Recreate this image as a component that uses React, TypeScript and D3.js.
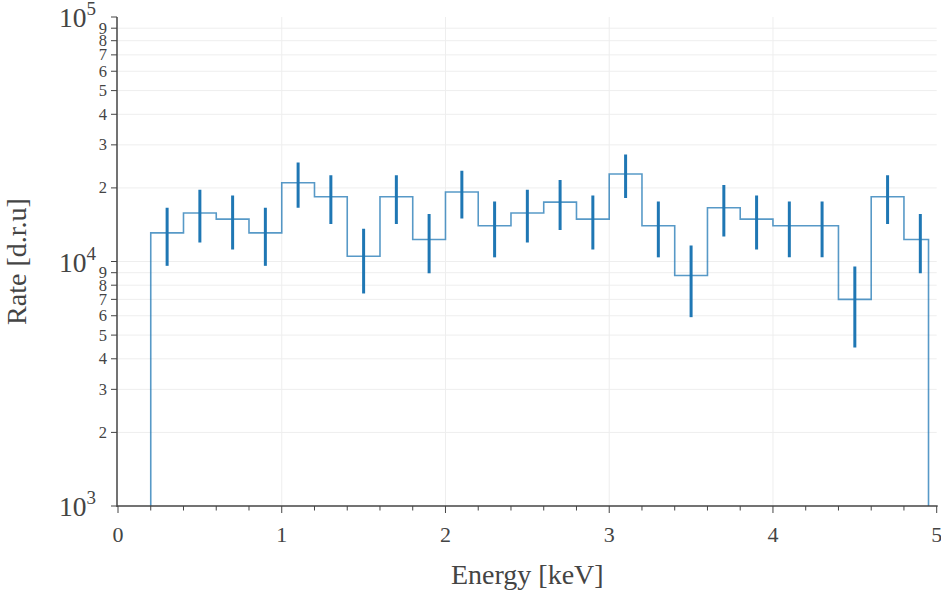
import React from "react";
import * as d3 from "d3";

// ---- data ----
const binEdges = [0.2, 0.4, 0.6, 0.8, 1.0, 1.2, 1.4, 1.6, 1.8, 2.0, 2.2, 2.4, 2.6, 2.8, 3.0, 3.2, 3.4, 3.6, 3.8, 4.0, 4.2, 4.4, 4.6, 4.8, 4.95];
const binCenters = [0.3, 0.5, 0.7, 0.9, 1.1, 1.3, 1.5, 1.7, 1.9, 2.1, 2.3, 2.5, 2.7, 2.9, 3.1, 3.3, 3.5, 3.7, 3.9, 4.1, 4.3, 4.5, 4.7, 4.9];
const rates = [13100, 15800, 14900, 13100, 21000, 18400, 10500, 18400, 12300, 19250, 14000, 15800, 17500, 14900, 22800, 14000, 8770, 16600, 14900, 14000, 14000, 7000, 18400, 12300];
const rateErrors = [350, 385, 370, 350, 440, 415, 310, 415, 335, 425, 360, 385, 405, 370, 460, 360, 285, 395, 370, 360, 360, 255, 415, 335];
const xMajorTicks = [0, 1, 2, 3, 4, 5];
const xMinorTicks = [0.2, 0.4, 0.6, 0.8, 1.2, 1.4, 1.6, 1.8, 2.2, 2.4, 2.6, 2.8, 3.2, 3.4, 3.6, 3.8, 4.2, 4.4, 4.6, 4.8];
const yPowers = [3, 4, 5];
const yDigits = [2, 3, 4, 5, 6, 7, 8, 9];
const xTitle = "Energy [keV]";
const yTitle = "Rate [d.r.u]";

const W = 941, H = 593;
const plot = { left: 118, right: 936.7, top: 17, bottom: 506 };
const FONT = '"Liberation Serif", "Times New Roman", Times, serif';
const TXT = "#444";
const BLUE = "#1f77b4";

export default function App() {
  const x = d3.scaleLinear().domain([0, 5]).range([plot.left, plot.right]);
  const y = d3.scaleLog().domain([1e3, 1e5]).range([plot.bottom, plot.top]);

  const minorVals: number[] = [];
  for (let p = 3; p < 5; p++) for (const d of yDigits) minorVals.push(d * Math.pow(10, p));

  // step path
  const pts: [number, number][] = [];
  pts.push([binEdges[0], 1e2]);
  rates.forEach((r, i) => {
    pts.push([binEdges[i], r]);
    pts.push([binEdges[i + 1], r]);
  });
  pts.push([binEdges[binEdges.length - 1], 1e2]);
  const yc = (v: number) => Math.min(plot.bottom + 5, y(Math.max(v, 500)));
  const stepPath = d3.line<[number, number]>().x((d) => x(d[0])).y((d) => yc(d[1]))(pts) || "";

  return (
    <svg width={W} height={H} style={{ position: "absolute", left: 0, top: 0, background: "#fff" }} fontFamily={FONT}>
      <defs>
        <clipPath id="pclip">
          <rect x={plot.left} y={plot.top} width={plot.right - plot.left} height={plot.bottom - plot.top} />
        </clipPath>
      </defs>
      {/* grid */}
      <g stroke="#eee" strokeWidth={1}>
        {minorVals.map((v) => (
          <line key={"gy" + v} x1={plot.left} x2={plot.right} y1={y(v)} y2={y(v)} />
        ))}
        <line x1={plot.left} x2={plot.right} y1={y(1e4)} y2={y(1e4)} />
        {xMajorTicks.slice(1, -1).map((t) => (
          <line key={"gx" + t} x1={x(t)} x2={x(t)} y1={plot.top} y2={plot.bottom} />
        ))}
      </g>

      {/* data */}
      <g clipPath="url(#pclip)">
        <path d={stepPath} fill="none" stroke={BLUE} strokeOpacity={0.75} strokeWidth={1.6} />
        {binCenters.map((c, i) => (
          <line
            key={"e" + i}
            x1={x(c)}
            x2={x(c)}
            y1={y(rates[i] + rateErrors[i] * 10)}
            y2={y(rates[i] - rateErrors[i] * 10)}
            stroke={BLUE}
            strokeWidth={3}
          />
        ))}
      </g>

      {/* axes */}
      <g stroke="#444" strokeWidth={1.5}>
        <line x1={plot.left - 1} x2={plot.left - 1} y1={plot.top} y2={plot.bottom + 1} />
        <line x1={plot.left - 1} x2={plot.right + 1} y1={plot.bottom} y2={plot.bottom} />
      </g>
      <g stroke="#444" strokeWidth={1}>
        {yPowers.map((p) => (
          <line key={"tp" + p} x1={plot.left - 7} x2={plot.left - 1} y1={y(Math.pow(10, p))} y2={y(Math.pow(10, p))} />
        ))}
        {minorVals.map((v) => (
          <line key={"tm" + v} x1={plot.left - 7} x2={plot.left - 1} y1={y(v)} y2={y(v)} />
        ))}
        {xMajorTicks.map((t) => (
          <line key={"xt" + t} x1={x(t)} x2={x(t)} y1={plot.bottom} y2={plot.bottom + 7} />
        ))}
        {xMinorTicks.map((t) => (
          <line key={"xm" + t} x1={x(t)} x2={x(t)} y1={plot.bottom} y2={plot.bottom + 4.5} />
        ))}
      </g>

      {/* y labels */}
      <g fill={TXT}>
        {minorVals.map((v) => (
          <text key={"lm" + v} x={plot.left - 11} y={y(v) + 5.5} fontSize={16.5} textAnchor="end">
            {String(Math.round(v / Math.pow(10, Math.floor(Math.log10(v) + 1e-9))))}
          </text>
        ))}
        {yPowers.map((p) => (
          <text key={"lp" + p} x={96} y={y(Math.pow(10, p)) + 10} fontSize={27.5} textAnchor="end">
            10
            <tspan fontSize={19} dy={-12}>{p}</tspan>
          </text>
        ))}
      </g>

      {/* x labels */}
      <g fill={TXT}>
        {xMajorTicks.map((t) => (
          <text key={"xl" + t} x={x(t)} y={plot.bottom + 36} fontSize={22} textAnchor="middle">
            {String(t)}
          </text>
        ))}
      </g>

      {/* titles */}
      <text x={(plot.left + plot.right) / 2} y={584} fontSize={28} fill={TXT} textAnchor="middle">
        {xTitle}
      </text>
      <text
        transform={`translate(26, ${(plot.top + plot.bottom) / 2}) rotate(-90)`}
        fontSize={28}
        fill={TXT}
        textAnchor="middle"
      >
        {yTitle}
      </text>
    </svg>
  );
}
